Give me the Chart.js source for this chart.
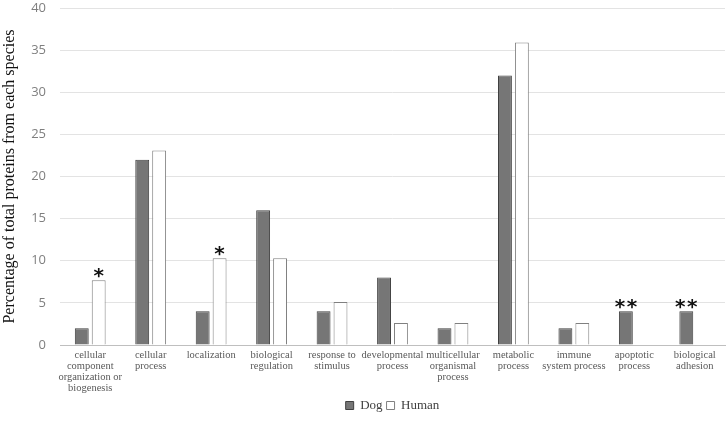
<head>
    <title>Protein categories</title>
    <script src="https://cdn.jsdelivr.net/npm/chart.js"></script>
</head>
<body>
    <canvas id="chart" width="727" height="422"></canvas>

    <script>
      // values (percent of total proteins)
      const categories = [
        ['cellular', 'component', 'organization or', 'biogenesis'],
        ['cellular', 'process'],
        ['localization'],
        ['biological', 'regulation'],
        ['response to', 'stimulus'],
        ['developmental', 'process'],
        ['multicellular', 'organismal', 'process'],
        ['metabolic', 'process'],
        ['immune', 'system process'],
        ['apoptotic', 'process'],
        ['biological', 'adhesion']
      ];
      const dogValues   = [2, 22, 4, 16, 4, 8, 2, 32, 2, 4, 4];
      const humanValues = [7.7, 23.1, 10.3, 10.3, 5.1, 2.6, 2.6, 35.9, 2.6, 0, 0];
      // significance marks: [category index, dataset index, text]
      const marks = [[0, 1, '*'], [2, 1, '*'], [9, 0, '**'], [10, 0, '**']];
      const yTicks = [0, 5, 10, 15, 20, 25, 30, 35, 40];

      // draws the asterisks above the bars
      const starPlugin = {
        id: 'stars',
        afterDatasetsDraw(chart) {
          const c = chart.ctx;
          c.save();
          c.fillStyle = '#111';
          c.font = 'bold 20px "DejaVu Sans"';
          c.textAlign = 'left';
          c.textBaseline = 'alphabetic';
          marks.forEach(([i, ds, txt]) => {
            const bar = chart.getDatasetMeta(ds).data[i];
            const stars = txt.split('');
            const step = 12;
            let x = bar.x - (stars.length - 1) * step / 2;
            stars.forEach(s => {
              const w = c.measureText(s).width;
              c.fillText(s, x - w / 2, bar.y + 2);
              x += step;
            });
          });
          c.restore();
        }
      };

      const ctx = document.getElementById('chart').getContext('2d');
      new Chart(ctx, {
        type: 'bar',
        data: {
          labels: categories,
          datasets: [
            { label: 'Dog', data: dogValues, backgroundColor: '#767676', borderColor: '#404040', borderWidth: 1 },
            { label: 'Human', data: humanValues, backgroundColor: '#ffffff', borderColor: '#808080', borderWidth: 1 }
          ]
        },
        options: {
          responsive: false,
          animation: false,
          layout: { padding: { top: 8, right: 2, left: 0, bottom: 0 } },
          datasets: { bar: { categoryPercentage: 0.56, barPercentage: 0.82 } },
          plugins: {
            tooltip: { enabled: false },
            legend: {
              position: 'bottom',
              fullSize: false,
              labels: {
                boxWidth: 8, boxHeight: 8, padding: 4, color: '#404040',
                font: { family: '"Liberation Serif"', size: 13, lineHeight: 1 }
              }
            }
          },
          scales: {
            x: {
              grid: { display: false, drawTicks: false },
              border: { color: '#bfbfbf' },
              ticks: {
                color: '#595959', maxRotation: 0, autoSkip: false, padding: 5,
                font: { family: '"Liberation Serif"', size: 10.5, lineHeight: 1.05 }
              },
              afterFit(scale) { scale.height = 50; }
            },
            y: {
              min: 0, max: 40,
              afterBuildTicks(scale) { scale.ticks = yTicks.map(v => ({ value: v })); },
              grid: { color: '#e3e3e3', drawTicks: false },
              border: { display: false },
              ticks: {
                color: '#7f7f7f', padding: 14,
                font: { family: '"Open Sans"', size: 13 }
              },
              title: {
                display: true, text: 'Percentage of total proteins from each species',
                color: '#111', padding: 0,
                font: { family: '"Liberation Serif"', size: 16 }
              },
              afterFit(scale) {
                scale.width = 60;
                scale.paddingTop = 0;
                scale.paddingBottom = 0;
              }
            }
          }
        },
        plugins: [starPlugin]
      });
    </script>

    <style>
      body {
        margin: 0;
        background-color: #ffffff;
      }
      canvas {
        display: block;
      }
    </style>
</body>
